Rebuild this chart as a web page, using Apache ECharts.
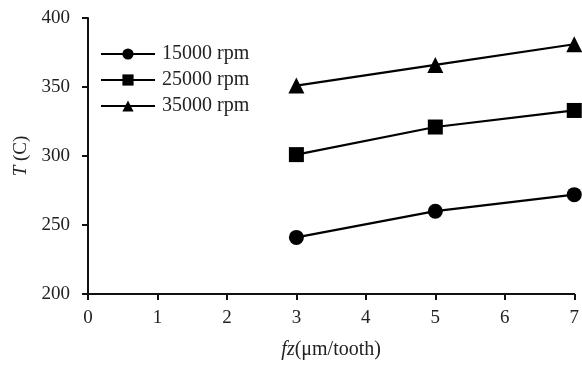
<!DOCTYPE html>
<html><head><meta charset="utf-8">
<script src="https://cdn.jsdelivr.net/npm/echarts@6/dist/echarts.min.js"></script>
<style>html,body{margin:0;padding:0;background:#fff}#c{width:582px;height:365px}</style>
</head><body><div id="c"></div>
<script>
const fz = [3, 5, 7];
const rpm15000 = [241, 260, 272];
const rpm25000 = [301, 321, 333];
const rpm35000 = [351, 366, 381];
const seriesNames = ['15000 rpm', '25000 rpm', '35000 rpm'];
const symbols = ['circle', 'rect', 'triangle'];
const yTicks = [200, 250, 300, 350, 400];
const xTicks = [0, 1, 2, 3, 4, 5, 6, 7];

const font = '"Liberation Serif", "DejaVu Serif", serif';
const chart = echarts.init(document.getElementById('c'));
const dataSets = [rpm15000, rpm25000, rpm35000];
chart.setOption({
  animation: false,
  textStyle: { fontFamily: font, color: '#222' },
  grid: { left: 88, right: 3, top: 18, bottom: 69, containLabel: false },
  legend: {
    orient: 'vertical', left: 100, top: 44, padding: 0, itemWidth: 54, itemHeight: 14, itemGap: 6,
    textStyle: { fontFamily: font, fontSize: 20, color: '#222', padding: [0,0,0,2] },
    data: seriesNames
  },
  xAxis: {
    type: 'value', min: 0, max: 7, interval: 1,
    name: '{i|fz}(μm/tooth)', nameLocation: 'middle', nameGap: 46,
    nameTextStyle: { fontFamily: font, fontSize: 20, color: '#222',
      rich: { i: { fontStyle: 'italic', fontFamily: font, fontSize: 20, color: '#222' } } },
    axisLine: { lineStyle: { color: '#111', width: 2 } },
    axisTick: { show: true, length: 6, lineStyle: { color: '#111', width: 2 } },
    axisLabel: { fontFamily: font, fontSize: 19, color: '#222', margin: 15,
      formatter: v => xTicks.includes(v) ? String(v) : '' },
    splitLine: { show: false }
  },
  yAxis: {
    type: 'value', min: 200, max: 400, interval: 50,
    name: '{i|T} (C)', nameLocation: 'middle', nameGap: 57, nameRotate: 90,
    nameTextStyle: { fontFamily: font, fontSize: 19, color: '#222',
      rich: { i: { fontStyle: 'italic', fontFamily: font, fontSize: 19, color: '#222' } } },
    axisLine: { show: true, lineStyle: { color: '#111', width: 2 } },
    axisTick: { show: true, length: 6, lineStyle: { color: '#111', width: 2 } },
    axisLabel: { fontFamily: font, fontSize: 19, color: '#222', margin: 18,
      formatter: v => yTicks.includes(v) ? String(v) : '' },
    splitLine: { show: false }
  },
  series: dataSets.map((d, i) => ({
    name: seriesNames[i], type: 'line',
    data: fz.map((x, j) => [x, d[j]]),
    symbol: symbols[i], symbolSize: i === 2 ? 16 : 15,
    showAllSymbol: true, clip: false,
    lineStyle: { color: '#000', width: 2.2 },
    itemStyle: { color: '#000' }
  }))
});
</script></body></html>
